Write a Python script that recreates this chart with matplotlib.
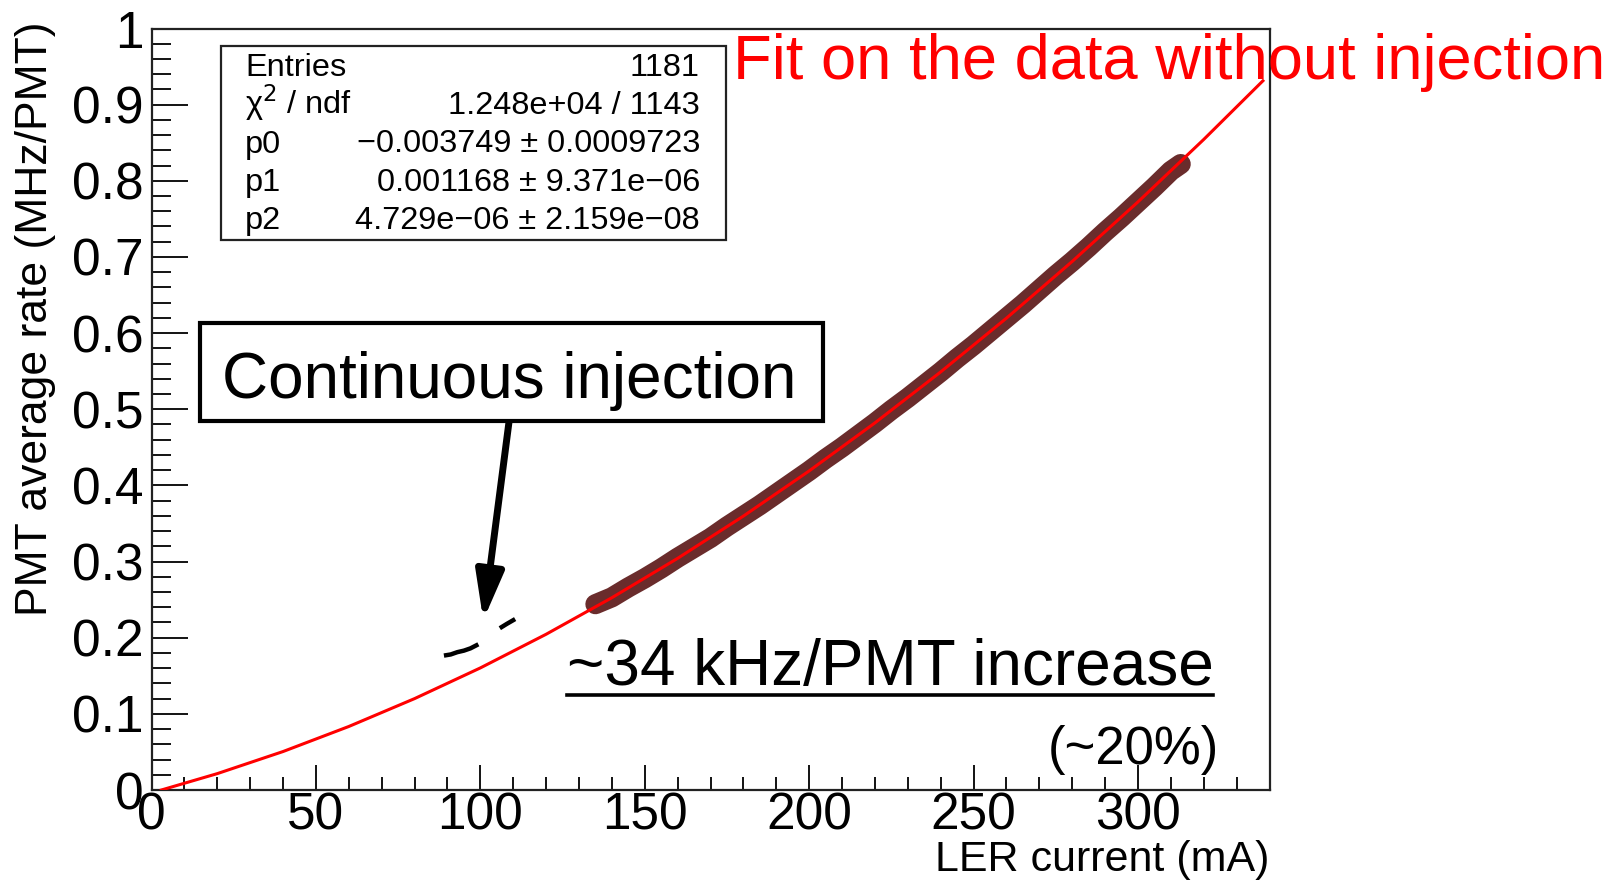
import matplotlib
matplotlib.use("Agg")
import matplotlib.pyplot as plt
from matplotlib.patches import Rectangle
from matplotlib.ticker import MultipleLocator

plt.rcParams['font.family'] = ['Liberation Sans', 'DejaVu Sans']

# ---- data ----
fit_x = [3, 20, 40, 60, 80, 100, 120, 140, 160, 180, 200, 220, 240, 260, 280, 300, 320, 338]
fit_y = [0.0, 0.0215, 0.0505, 0.0834, 0.1200, 0.1603, 0.2045, 0.2525, 0.3042, 0.3597,
         0.4190, 0.4821, 0.5490, 0.6196, 0.6941, 0.7723, 0.8543, 0.9313]

data_x = [135, 140, 145, 150, 155, 160, 165, 170, 175, 180, 185, 190, 195, 200, 205, 210,
          215, 220, 225, 230, 235, 240, 245, 250, 255, 260, 265, 270, 275, 280, 285, 290,
          295, 300, 305, 310, 313]
data_y = [0.244, 0.253, 0.266, 0.278, 0.291, 0.305, 0.318, 0.331, 0.346, 0.360, 0.374,
          0.389, 0.404, 0.419, 0.435, 0.450, 0.466, 0.482, 0.499, 0.515, 0.532, 0.549,
          0.567, 0.584, 0.602, 0.620, 0.638, 0.657, 0.676, 0.694, 0.713, 0.733, 0.752,
          0.772, 0.792, 0.813, 0.822]

inj1_x = [89.6, 91.0, 93.0, 95.0, 97.0, 98.8]
inj1_y = [0.177, 0.178, 0.181, 0.183, 0.186, 0.190]
inj2_x = [106.5, 108.0, 110.0]
inj2_y = [0.214, 0.218, 0.223]

stat_names = ["Entries", "χ$^2$ / ndf", "p0", "p1", "p2"]
stat_values = ["1181", "1.248e+04 / 1143", "\u22120.003749 ± 0.0009723",
               "0.001168 ± 9.371e\u221206", "4.729e\u221206 ± 2.159e\u221208"]

xticks = [0, 50, 100, 150, 200, 250, 300]
yticks = [0, 0.1, 0.2, 0.3, 0.4, 0.5, 0.6, 0.7, 0.8, 0.9, 1]
ytick_labels = ["0", "0.1", "0.2", "0.3", "0.4", "0.5", "0.6", "0.7", "0.8", "0.9", "1"]

W, H = 1614, 883
fig = plt.figure(figsize=(W / 100, H / 100), dpi=100)
fig.patch.set_facecolor("white")

def fx(px):
    return px / W

def fy(py):
    return 1 - py / H

ax_l, ax_r, ax_t, ax_b = 151.5, 1269.5, 28.5, 790
ax = fig.add_axes([fx(ax_l), fy(ax_b), fx(ax_r) - fx(ax_l), fy(ax_t) - fy(ax_b)])
ax.set_xlim(0, 340)
ax.set_ylim(0, 1)

# data band
ax.plot(data_x, data_y, color="#6a2c2c", lw=14.5, solid_capstyle="round",
        solid_joinstyle="round", zorder=3)
# fit
ax.plot(fit_x, fit_y, color="#ff0000", lw=2.2, zorder=4)
# injection points
ax.plot(inj1_x, inj1_y, color="black", lw=3.2, zorder=4)
ax.plot(inj2_x, inj2_y, color="black", lw=3.2, zorder=4)

# arrow
ax.annotate("", xy=(100.9, 0.223), xytext=(108.8, 0.486),
            arrowprops=dict(arrowstyle="-|>,head_length=1.45,head_width=0.42",
                            mutation_scale=20, lw=5, color="black",
                            shrinkA=0, shrinkB=0), zorder=5)

# ticks
ax.set_xticks(xticks)
ax.set_xticklabels([str(v) for v in xticks])
ax.set_yticks(yticks)
ax.set_yticklabels(ytick_labels)
ax.xaxis.set_minor_locator(MultipleLocator(10))
ax.yaxis.set_minor_locator(MultipleLocator(0.02))
ax.tick_params(axis="both", which="both", direction="in", top=False, right=False,
               colors="black", width=1.3)
ax.tick_params(axis="x", which="major", length=18, labelsize=37, pad=1)
ax.tick_params(axis="x", which="minor", length=9.4)
ax.tick_params(axis="y", which="major", length=26, labelsize=37, pad=6)
ax.tick_params(axis="y", which="minor", length=13.7)
for s in ax.spines.values():
    s.set_linewidth(1.6)
    s.set_color("#222222")

# axis titles
fig.text(fx(36), fy(21), "PMT average rate (MHz/PMT)", rotation=90, ha="center",
         va="top", fontsize=32)
fig.text(fx(1269), fy(871), "LER current (mA)", ha="right", va="baseline", fontsize=31)

# stats box
fig.patches.append(Rectangle((fx(221), fy(240)), fx(726) - fx(221), fy(46) - fy(240),
                             transform=fig.transFigure, facecolor="white",
                             edgecolor="#222222", lw=1.6, zorder=6))
base = [76, 114, 152.5, 191, 229]
for name, val, b in zip(stat_names, stat_values, base):
    fig.text(fx(245), fy(b), name, ha="left", va="baseline", fontsize=23.4, zorder=7)
    fig.text(fx(700), fy(b), val, ha="right", va="baseline", fontsize=23.4, zorder=7)

# continuous injection box
fig.patches.append(Rectangle((fx(200), fy(421)), fx(823) - fx(200), fy(323) - fy(421),
                             transform=fig.transFigure, facecolor="white",
                             edgecolor="black", lw=3, zorder=6))
fig.text(fx(509), fy(398), "Continuous injection", ha="center", va="baseline",
         fontsize=46, zorder=7)

# annotations
fig.text(fx(733), fy(79), "Fit on the data without injection", ha="left",
         va="baseline", fontsize=45.5, color="#ff0000", zorder=7)
fig.text(fx(567), fy(685), "~34 kHz/PMT increase", ha="left", va="baseline",
         fontsize=46, zorder=7)
fig.lines.append(plt.Line2D([fx(567), fx(1213)], [fy(695), fy(695)],
                            transform=fig.transFigure, color="black", lw=2.6))
fig.text(fx(1048), fy(764), "(~20%)", ha="left", va="baseline", fontsize=38, zorder=7)

fig.savefig("out.png", dpi=100, facecolor="white")
